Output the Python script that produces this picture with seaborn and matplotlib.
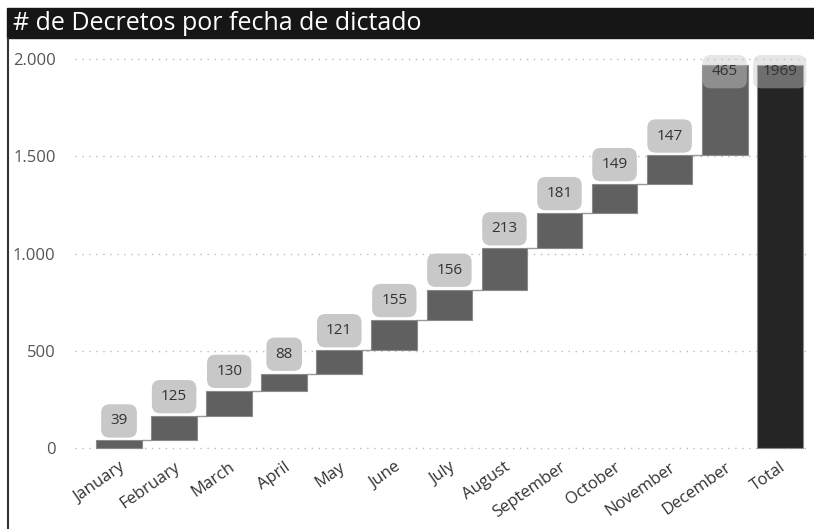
import seaborn as sns
import matplotlib.pyplot as plt
import matplotlib.patches as mpatches
from matplotlib.ticker import FuncFormatter
import pandas as pd
import numpy as np

months = ["January", "February", "March", "April", "May", "June", "July",
          "August", "September", "October", "November", "December"]
counts = [39, 125, 130, 88, 121, 155, 156, 213, 181, 149, 147, 465]
title = "# de Decretos por fecha de dictado"

total = sum(counts)
cats = months + ["Total"]
ends = list(np.cumsum(counts)) + [total]
starts = [0] + list(np.cumsum(counts)[:-1]) + [0]
heights = counts + [total]
df = pd.DataFrame({"cat": cats, "val": heights})

sns.set_style("white")
plt.rcParams["font.family"] = ["Open Sans", "DejaVu Sans"]

fig = plt.figure(figsize=(8.14, 5.29), dpi=100)
ax = fig.add_axes([75 / 814, (529 - 455) / 529, 735 / 814, 410 / 529])

sns.barplot(data=df, x="cat", y="val", order=cats, color="#606060",
            width=0.83, saturation=1, ax=ax, zorder=3)

# float the monthly bars on the running total
for i, p in enumerate(ax.patches):
    p.set_y(starts[i])
    p.set_height(heights[i])
    p.set_edgecolor("#8a8a8a")
    p.set_linewidth(0.8)
ax.patches[-1].set_facecolor("#252525")

# connectors
for i in range(len(cats) - 2):
    ax.plot([i + 0.415, i + 1 - 0.415], [ends[i], ends[i]], color="#9a9a9a", lw=1, zorder=2)

# value boxes
for i, v in enumerate(heights):
    top = ends[i]
    y = top + 100
    capped = y > 1935
    if capped:
        y = 1935
    ax.text(i, y, str(v), ha="center", va="center", fontsize=11, color="#333333", zorder=5,
            bbox=dict(boxstyle="round,pad=0.6,rounding_size=0.55",
                      fc="#c8c8c8", ec="none", alpha=0.45 if capped else 1))

ax.set_xlim(-0.8, 12.55)
ax.set_ylim(-36, 2072)
ax.set_yticks([0, 500, 1000, 1500, 2000])
ax.yaxis.set_major_formatter(FuncFormatter(lambda x, pos: f"{int(x):,}".replace(",", ".")))
ax.grid(axis="y", color="#bbbbbb", linestyle=(0, (1, 4)), lw=1)
ax.set_axisbelow(True)
for s in ax.spines.values():
    s.set_visible(False)
ax.set_xlabel("")
ax.set_ylabel("")
ax.tick_params(axis="y", labelsize=12, labelcolor="#555555", length=0, pad=14)
ax.tick_params(axis="x", labelsize=12, labelcolor="#333333", length=0, pad=3)
plt.setp(ax.get_xticklabels(), rotation=35, ha="right", rotation_mode="anchor")

# title bar and frame
fig.patches.append(mpatches.Rectangle((7 / 814, (529 - 38) / 529), 807 / 814, 30 / 529,
                                      transform=fig.transFigure, color="#161616", zorder=0))
fig.lines.append(plt.Line2D([7.5 / 814, 7.5 / 814], [0, (529 - 38) / 529],
                            transform=fig.transFigure, color="#333333", lw=1.5))
fig.text(13 / 814, (529 - 24) / 529, title, color="white", fontsize=18, va="center", ha="left")

fig.savefig("out.png", dpi=100)
